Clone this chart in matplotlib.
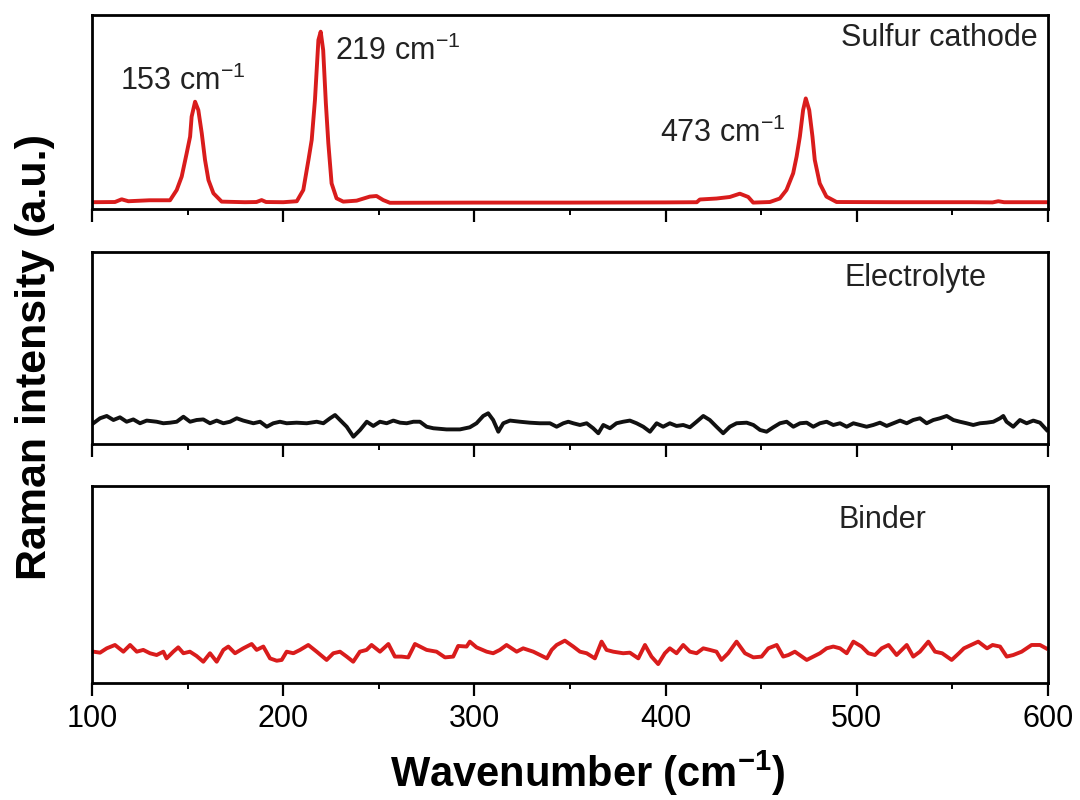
#!/usr/bin/env python3

"""
Raman spectra of sulfur cathode, electrolyte and binder.
Writes out.png
"""

import matplotlib
matplotlib.use("Agg")
import matplotlib.pyplot as plt
from matplotlib.ticker import MultipleLocator

# ============================================================
# Data
# ============================================================

sulfur_wn = [
    100, 112, 115.5, 119, 130, 140.8, 144.3, 146.9, 149.5, 151.3,
    152.1, 153.9, 155.6, 157.4, 159.1, 160.9, 163.5, 167.8, 180, 186,
    188.7, 191, 200, 207.1, 210.5, 213.2, 214.9, 216.6, 218.4, 219.6,
    220.9, 222.3, 223.6, 225.3, 227.9, 231.4, 238.4, 245.3, 248.8, 252.3,
    255.8, 300, 350, 400, 416.3, 417.9, 426.6, 433.6, 438.8, 443.2,
    445.8, 454.5, 459.7, 463.2, 466.7, 468.5, 470.2, 471.9, 473.3, 475.1,
    476.8, 478.0, 480.6, 484.1, 489.4, 520, 560, 571, 574, 577, 600,
]
sulfur_int = [
    0.035, 0.036, 0.050, 0.040, 0.045, 0.045, 0.098, 0.167, 0.287, 0.373,
    0.476, 0.553, 0.510, 0.390, 0.253, 0.149, 0.081, 0.038, 0.035, 0.036,
    0.046, 0.036, 0.035, 0.040, 0.098, 0.253, 0.356, 0.562, 0.871, 0.914,
    0.819, 0.545, 0.339, 0.132, 0.055, 0.038, 0.043, 0.064, 0.067, 0.046,
    0.032, 0.033, 0.033, 0.034, 0.035, 0.049, 0.054, 0.062, 0.079, 0.062,
    0.033, 0.036, 0.054, 0.098, 0.184, 0.270, 0.373, 0.510, 0.570, 0.510,
    0.373, 0.253, 0.132, 0.064, 0.036, 0.035, 0.035, 0.034, 0.040, 0.035, 0.035,
]

electrolyte_wn = [
    100.7, 104.2, 107.7, 111.2, 114.6, 118.1, 121.6, 125.1, 128.6, 133.8,
    137.3, 140.8, 144.3, 147.8, 151.3, 154.7, 158.2, 161.7, 165.2, 168.7,
    172.2, 175.7, 179.1, 184.4, 187.9, 191.4, 194.8, 198.3, 201.8, 207.0,
    212.3, 217.5, 221.0, 224.5, 227.1, 229.7, 233.2, 236.7, 240.2, 243.7,
    247.1, 250.6, 254.1, 257.6, 261.1, 264.6, 268.1, 271.5, 275.0, 278.5,
    285.4, 292.4, 297.6, 301.1, 304.6, 307.2, 309.8, 312.5, 315.1, 318.6,
    323.8, 329.0, 334.2, 339.5, 343.0, 346.5, 349.1, 351.7, 355.2, 358.7,
    362.1, 364.8, 367.4, 370.9, 374.3, 377.8, 381.3, 384.8, 388.3, 391.8,
    395.3, 398.7, 402.2, 405.7, 409.2, 412.7, 416.2, 419.7, 423.1, 426.6,
    430.1, 433.6, 437.1, 442.4, 445.9, 449.4, 452.8, 456.3, 459.8, 463.3,
    466.8, 470.3, 473.8, 477.2, 480.7, 484.2, 487.7, 491.2, 494.7, 498.2,
    501.6, 505.1, 508.6, 512.1, 515.6, 519.1, 522.6, 526.1, 529.5, 533.0,
    536.5, 540.0, 543.5, 547.0, 550.5, 553.9, 557.4, 560.9, 564.4, 567.9,
    571.4, 574.9, 576.6, 578.3, 581.8, 585.3, 588.8, 592.3, 595.8, 599.3,
]
electrolyte_int = [
    0.108, 0.134, 0.146, 0.125, 0.139, 0.116, 0.128, 0.108, 0.122, 0.116,
    0.108, 0.111, 0.116, 0.142, 0.116, 0.125, 0.128, 0.108, 0.122, 0.108,
    0.116, 0.134, 0.122, 0.108, 0.116, 0.090, 0.108, 0.116, 0.108, 0.111,
    0.108, 0.116, 0.108, 0.134, 0.151, 0.125, 0.090, 0.038, 0.073, 0.116,
    0.094, 0.116, 0.108, 0.122, 0.111, 0.108, 0.116, 0.116, 0.090, 0.082,
    0.076, 0.076, 0.087, 0.108, 0.146, 0.160, 0.125, 0.064, 0.108, 0.122,
    0.116, 0.111, 0.108, 0.108, 0.090, 0.108, 0.116, 0.108, 0.099, 0.108,
    0.082, 0.056, 0.099, 0.082, 0.108, 0.116, 0.122, 0.108, 0.090, 0.064,
    0.108, 0.090, 0.108, 0.094, 0.099, 0.087, 0.116, 0.146, 0.125, 0.090,
    0.056, 0.090, 0.108, 0.111, 0.099, 0.073, 0.064, 0.087, 0.108, 0.116,
    0.090, 0.108, 0.111, 0.090, 0.108, 0.116, 0.099, 0.108, 0.090, 0.108,
    0.099, 0.090, 0.099, 0.111, 0.094, 0.108, 0.122, 0.108, 0.125, 0.134,
    0.108, 0.125, 0.134, 0.146, 0.125, 0.116, 0.108, 0.099, 0.108, 0.111,
    0.116, 0.134, 0.146, 0.116, 0.090, 0.125, 0.108, 0.122, 0.111, 0.073,
]

binder_wn = [
    100.7, 104.2, 107.7, 112.0, 116.4, 119.9, 123.4, 126.8, 130.3, 133.8,
    137.3, 139.0, 142.5, 145.1, 147.8, 151.2, 154.7, 158.2, 161.7, 165.2,
    168.7, 171.3, 174.8, 179.1, 183.5, 186.1, 189.6, 193.1, 196.6, 199.2,
    201.8, 205.3, 208.8, 213.1, 217.5, 222.7, 226.2, 229.7, 233.2, 236.6,
    240.1, 243.6, 246.2, 250.6, 255.0, 258.4, 261.9, 265.4, 268.9, 271.5,
    275.0, 280.2, 284.6, 288.9, 291.5, 295.9, 297.6, 301.1, 306.4, 309.8,
    313.3, 316.8, 322.1, 325.5, 330.8, 337.9, 340.4, 343.0, 347.3, 351.7,
    355.2, 358.7, 363.0, 366.5, 369.1, 372.6, 377.8, 381.3, 385.7, 389.2,
    392.6, 396.1, 399.6, 402.2, 405.7, 409.2, 412.7, 416.2, 419.7, 423.1,
    426.6, 429.2, 432.7, 437.1, 441.5, 445.9, 450.2, 453.7, 458.1, 461.5,
    464.2, 467.6, 473.8, 480.7, 484.2, 487.7, 491.2, 494.7, 498.2, 502.5,
    506.0, 509.5, 513.0, 516.6, 520.8, 526.1, 529.5, 533.0, 537.4, 540.9,
    544.6, 549.6, 553.4, 556.0, 563.5, 568.1, 571.0, 574.9, 578.4, 581.8,
    586.2, 591.4, 595.8, 599.0,
]
binder_int = [
    0.159, 0.154, 0.176, 0.193, 0.159, 0.193, 0.159, 0.168, 0.151, 0.142,
    0.159, 0.125, 0.159, 0.181, 0.151, 0.159, 0.137, 0.108, 0.151, 0.108,
    0.168, 0.185, 0.151, 0.176, 0.198, 0.168, 0.185, 0.125, 0.113, 0.117,
    0.159, 0.151, 0.168, 0.193, 0.159, 0.117, 0.151, 0.159, 0.134, 0.108,
    0.159, 0.168, 0.193, 0.159, 0.198, 0.134, 0.134, 0.130, 0.198, 0.185,
    0.168, 0.159, 0.130, 0.134, 0.188, 0.185, 0.210, 0.181, 0.159, 0.151,
    0.168, 0.193, 0.159, 0.176, 0.159, 0.125, 0.168, 0.193, 0.215, 0.185,
    0.159, 0.151, 0.125, 0.210, 0.168, 0.159, 0.151, 0.154, 0.125, 0.193,
    0.134, 0.096, 0.151, 0.176, 0.151, 0.193, 0.159, 0.151, 0.176, 0.168,
    0.159, 0.117, 0.151, 0.210, 0.151, 0.130, 0.134, 0.176, 0.193, 0.134,
    0.142, 0.159, 0.117, 0.151, 0.176, 0.185, 0.176, 0.151, 0.210, 0.185,
    0.151, 0.142, 0.176, 0.193, 0.142, 0.193, 0.134, 0.159, 0.210, 0.159,
    0.151, 0.117, 0.151, 0.176, 0.210, 0.176, 0.193, 0.185, 0.134, 0.142,
    0.159, 0.193, 0.193, 0.176,
]

peak_positions = [153, 219, 473]
peak_label_x = [114.6, 227.1, 397.1]
peak_label_y = [0.613, 0.768, 0.345]

panel_names = ["Sulfur cathode", "Electrolyte", "Binder"]

# ============================================================
# Style
# ============================================================

plt.rcParams["font.family"] = ["Liberation Sans", "DejaVu Sans"]
plt.rcParams["mathtext.default"] = "regular"

RED = "#d91c1c"
BLACK = "#111111"
LINE_W = 2.8


def style_panel(ax, show_labels):
    ax.set_xlim(100, 600)
    ax.set_ylim(0, 1)
    ax.set_yticks([])
    ax.xaxis.set_major_locator(MultipleLocator(100))
    ax.xaxis.set_minor_locator(MultipleLocator(50))
    ax.tick_params(axis="x", which="major", direction="out",
                   length=9, width=1.6, labelsize=22,
                   labelbottom=show_labels, pad=6)
    ax.tick_params(axis="x", which="minor", direction="out",
                   length=4.5, width=1.4)
    for spine in ax.spines.values():
        spine.set_linewidth(2.0)


# ============================================================
# Figure
# ============================================================

fig = plt.figure(figsize=(10.8, 8), dpi=100)

left = 0.0852
width = 0.8852

ax_top = fig.add_axes([left, 0.73875, width, 0.2425])
ax_mid = fig.add_axes([left, 0.445, width, 0.24])
ax_bot = fig.add_axes([left, 0.14625, width, 0.24625])

# sulfur cathode
ax_top.plot(sulfur_wn, sulfur_int, color=RED, linewidth=LINE_W)
style_panel(ax_top, False)

for pos, lx, ly in zip(peak_positions, peak_label_x, peak_label_y):
    ax_top.text(lx, ly, f"{pos} cm$^{{-1}}$", fontsize=22,
                ha="left", va="baseline", color="#222222")

ax_top.text(0.9895, 0.881, panel_names[0], transform=ax_top.transAxes,
            fontsize=22, ha="right", va="center", color="#222222")

# electrolyte
ax_mid.plot(electrolyte_wn, electrolyte_int, color=BLACK, linewidth=LINE_W)
style_panel(ax_mid, False)
ax_mid.text(0.861, 0.865, panel_names[1], transform=ax_mid.transAxes,
            fontsize=22, ha="center", va="center", color="#222222")

# binder
ax_bot.plot(binder_wn, binder_int, color=RED, linewidth=LINE_W)
style_panel(ax_bot, True)
ax_bot.text(0.827, 0.827, panel_names[2], transform=ax_bot.transAxes,
            fontsize=22, ha="center", va="center", color="#222222")

# shared axis labels
fig.text(0.032, 0.554, "Raman intensity (a.u.)", rotation=90,
         fontsize=31, fontweight="bold", ha="center", va="center")
fig.text(0.544, 0.034, "Wavenumber (cm$^{-1}$)",
         fontsize=30, fontweight="bold", ha="center", va="center")

fig.savefig("out.png", dpi=100)
